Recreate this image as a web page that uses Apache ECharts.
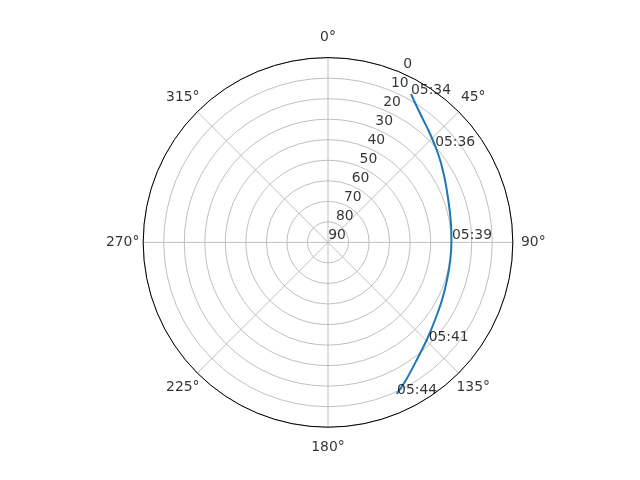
<!DOCTYPE html>
<html>
<head>
<meta charset="utf-8">
<script src="https://cdn.jsdelivr.net/npm/echarts@6/dist/echarts.min.js"></script>
<style>
  html, body { margin: 0; padding: 0; background: #fff; }
  #chart_view { width: 640px; height: 480px; }
</style>
</head>
<body>
<div id="chart_view"></div>
<script type="text/javascript">
  // pass track: azimuth (deg) and elevation (deg)
  var azimuth   = [29.22, 33.32, 37.91, 41.74, 45.64, 49.63, 54.50, 57.74, 61.93, 70.59, 79.65, 88.89,
                   98.19, 107.53, 116.81, 125.95, 134.68, 142.97, 150.45, 155.62];
  var elevation = [7.19, 11.09, 14.45, 16.63, 18.68, 20.52, 22.58, 23.94, 25.42, 27.88, 29.26, 29.85,
                   29.83, 29.22, 27.79, 25.63, 22.40, 18.26, 12.97, 8.94];

  // time marks along the track
  var timeLabels = ['05:34', '05:36', '05:39', '05:41', '05:44'];
  var timeAz     = [29.22, 48.2, 88.4, 134.4, 155.5];
  var timeEl     = [7.19, 20.0, 29.6, 21.4, 8.9];

  // tick labels
  var radiusTicks = [0, 10, 20, 30, 40, 50, 60, 70, 80, 90];
  var angleTicks  = [0, 45, 90, 135, 180, 225, 270, 315];
  var rLabelAngle = 22.5;

  var font = 'DejaVu Sans';
  var fsize = 13.9;

  var track = [];
  for (var i = 0; i < azimuth.length; i++) {
    track.push([elevation[i], azimuth[i]]);
  }
  var marks = [];
  for (var i = 0; i < timeLabels.length; i++) {
    marks.push({ value: [timeEl[i], timeAz[i]], name: timeLabels[i] });
  }
  var rLabels = [];
  for (var i = 0; i < radiusTicks.length; i++) {
    rLabels.push({ value: [radiusTicks[i], rLabelAngle], name: String(radiusTicks[i]) });
  }
  var aLabels = [];
  for (var i = 0; i < angleTicks.length; i++) {
    // just outside the outer ring
    aLabels.push({ value: [-10, angleTicks[i]], name: angleTicks[i] + '°' });
  }

  var myChart = echarts.init(document.getElementById('chart_view'));
  var option = {
    animation: false,
    backgroundColor: '#fff',
    polar: {
      center: [328, 242.4],
      radius: 184.8
    },
    angleAxis: {
      type: 'value',
      min: 0,
      max: 360,
      interval: 45,
      startAngle: 90,
      clockwise: true,
      axisLine: { show: true, lineStyle: { color: '#000', width: 1 } },
      axisTick: { show: false },
      axisLabel: { show: false },
      splitLine: { show: true, lineStyle: { color: '#b0b0b0', width: 0.8 } },
      z: 1
    },
    radiusAxis: {
      type: 'value',
      min: 0,
      max: 90,
      interval: 10,
      inverse: true,
      axisLine: { show: false },
      axisTick: { show: false },
      axisLabel: { show: false },
      splitLine: { show: true, lineStyle: { color: '#b0b0b0', width: 0.8 } },
      z: 0
    },
    series: [
      {
        type: 'line',
        coordinateSystem: 'polar',
        data: track,
        smooth: 0.3,
        showSymbol: false,
        lineStyle: { color: '#1f77b4', width: 2 },
        z: 3
      },
      {
        type: 'scatter',
        coordinateSystem: 'polar',
        data: marks,
        symbolSize: 0,
        clip: false,
        label: {
          show: true,
          formatter: '{b}',
          position: [0, 0],
          align: 'left',
          verticalAlign: 'bottom',
          offset: [0, 3],
          color: '#000',
          fontFamily: font,
          fontSize: fsize
        },
        z: 4
      },
      {
        type: 'scatter',
        coordinateSystem: 'polar',
        data: rLabels,
        symbolSize: 0,
        clip: false,
        label: {
          show: true,
          formatter: '{b}',
          position: 'inside',
          offset: [9, -7.5],
          color: '#000',
          fontFamily: font,
          fontSize: fsize
        },
        z: 4
      },
      {
        type: 'scatter',
        coordinateSystem: 'polar',
        data: aLabels,
        symbolSize: 0,
        clip: false,
        label: {
          show: true,
          formatter: '{b}',
          position: 'inside',
          color: '#000',
          fontFamily: font,
          fontSize: fsize
        },
        z: 4
      }
    ]
  };
  myChart.setOption(option);
</script>
</body>
</html>
